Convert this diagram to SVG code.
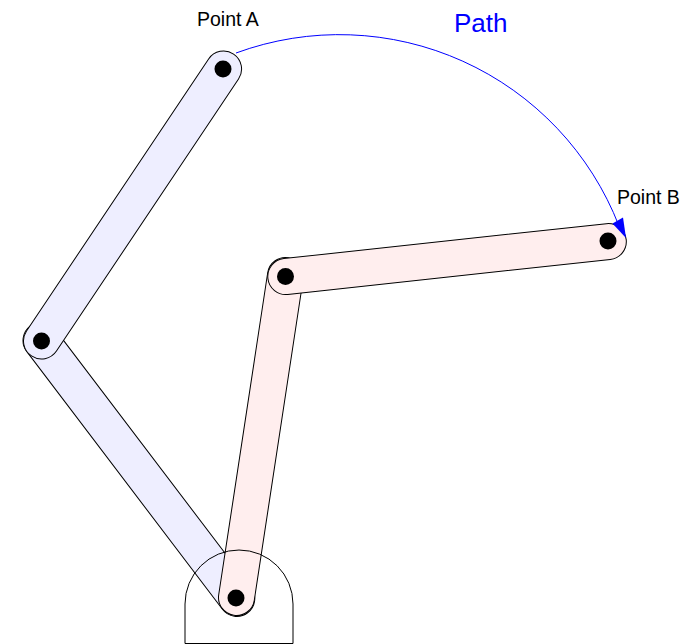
<svg xmlns="http://www.w3.org/2000/svg" width="694" height="644" viewBox="0 0 694 644">
<style>
.link{stroke:#000;stroke-width:1}
.blue{fill:#eeeeff}
.pink{fill:#ffeeee}
.pin{fill:#000}
text{font-family:"Liberation Sans",Arial,sans-serif}
.lbl{font-size:19.5px;fill:#000}
</style>
<rect width="694" height="644" fill="#fff"/>
<g id="link-blue-lower"><rect class="link blue" x="-18" y="-18" width="359.800" height="36" rx="18" transform="translate(41 340.500) rotate(52.800)"/></g>
<g id="link-blue-upper"><rect class="link blue" x="-18" y="-18" width="363.300" height="36" rx="18" transform="translate(41.500 341) rotate(-56.200)"/></g>
<g id="link-pink-lower"><rect class="link pink" x="-18" y="-18" width="361.700" height="36" rx="18" transform="translate(236.500 597.500) rotate(-81.350)"/></g>
<g id="link-pink-upper"><rect class="link pink" x="-18" y="-18" width="360.400" height="36" rx="18" transform="translate(285.800 276.500) rotate(-6.180)"/></g>
<g id="base"><path d="M185 643.500V604A54 54 0 0 1 293 604V643.500Z" fill="none" stroke="#000"/></g>
<g id="pins">
<circle class="pin" cx="223" cy="69" r="8.500"/>
<circle class="pin" cx="41.500" cy="341" r="8.500"/>
<circle class="pin" cx="236" cy="598" r="8.500"/>
<circle class="pin" cx="285.500" cy="276.500" r="8.500"/>
<circle class="pin" cx="608" cy="241" r="8.500"/>
</g>
<g id="connectors">
<path d="M236 53A300 300 0 0 1 619 226" fill="none" stroke="#0000ff"/>
<path d="M626 238L612.500 223.500L623 217.500Z" fill="#0000ff"/>
</g>
<text class="lbl" x="197" y="26">Point A</text>
<text class="lbl" x="617" y="204">Point B</text>
<text x="454" y="32" font-size="26" fill="#0000ff">Path</text>
</svg>
